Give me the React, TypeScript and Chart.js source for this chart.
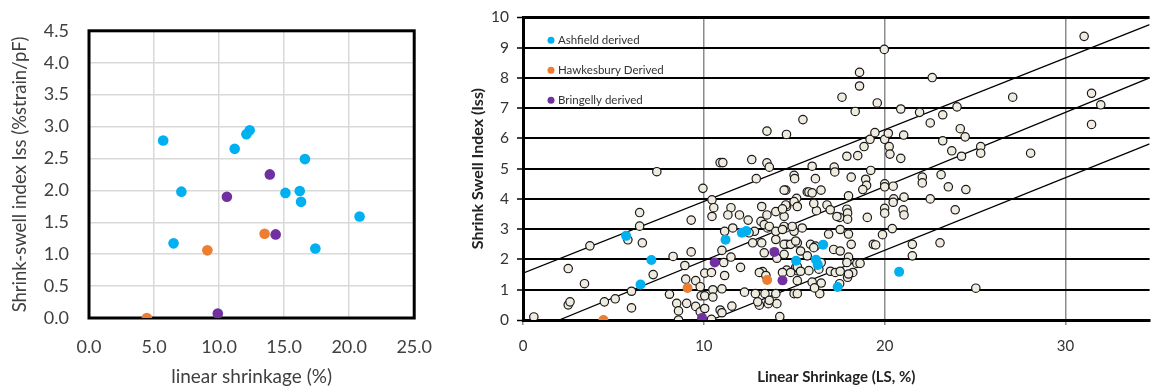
import React, { useEffect, useRef } from 'react';
import { Chart, registerables } from 'chart.js';
Chart.register(...registerables);

const FONT = 'Lato, "Open Sans", "Liberation Sans", sans-serif';
const BLUE = '#00B0F0';
const ORANGE = '#ED7D31';
const PURPLE = '#7030A0';

// Highlighted samples (same in both panels)
const ashfieldLS = [5.7, 6.5, 7.1, 11.2, 12.1, 12.35, 15.1, 16.2, 16.3, 16.6, 17.4, 20.8];
const ashfieldIss = [2.78, 1.17, 1.98, 2.65, 2.88, 2.94, 1.96, 1.99, 1.82, 2.49, 1.09, 1.59];
const hawkesburyLS = [4.45, 9.1, 13.5];
const hawkesburyIss = [0.0, 1.06, 1.32];
const bringellyLS = [9.9, 10.6, 13.9, 14.35];
const bringellyIss = [0.07, 1.9, 2.25, 1.31];

// Background dataset (right panel)
const allLS = [
  0.6, 2.5, 2.5, 2.6, 3.4, 3.7, 4.5, 5.1, 5.8, 6.0, 6.0, 6.45, 6.45, 6.6, 7.2, 7.4, 8.1, 8.3, 8.5, 8.6,
  8.6, 8.95, 9.0, 9.05, 9.3, 9.3, 9.55, 9.55, 9.8, 9.85, 9.8, 9.95, 10.05, 10.05, 10.05, 10.45, 10.45, 10.55, 10.42, 10.5,
  10.5, 10.42, 10.9, 11.05, 10.9, 11.0, 11.1, 11.15, 11.0, 11.0, 11.5, 11.5, 11.55, 11.15, 11.6, 11.33, 11.97, 12.03, 12.25, 12.45,
  12.7, 12.8, 12.85, 12.65, 12.9, 12.5, 13.07, 13.2, 13.16, 13.2, 13.25, 13.38, 13.56, 13.49, 13.52, 13.34, 13.49, 13.49, 13.62, 13.98,
  13.98, 14.04, 14.04, 14.2, 13.07, 13.43, 12.98, 13.62, 13.98, 13.34, 13.62, 13.98, 14.53, 14.58, 14.53, 14.58, 14.58, 14.99, 14.99, 15.13,
  15.17, 15.17, 15.44, 15.35, 14.57, 14.99, 15.02, 15.48, 15.72, 14.44, 14.44, 14.44, 14.44, 14.35, 14.35, 14.89, 14.8, 15.08, 15.9, 16.17,
  15.72, 15.08, 14.8, 15.81, 14.53, 14.99, 14.44, 14.35, 15.99, 16.17, 15.81, 15.99, 16.48, 15.17, 16.81, 16.99, 16.23, 16.08, 16.9, 16.08,
  16.49, 16.36, 15.99, 16.49, 16.41, 16.12, 15.17, 15.17, 15.35, 15.17, 17.0, 17.27, 17.54, 17.51, 17.64, 18.37, 18.61, 18.61, 17.91, 18.51,
  18.86, 19.19, 19.46, 17.21, 17.24, 18.15, 18.95, 19.0, 18.79, 19.23, 18.0, 17.51, 17.91, 17.95, 17.95, 19.04, 17.54, 18.0, 18.15, 17.18,
  17.54, 18.0, 17.91, 18.46, 18.24, 17.95, 18.64, 18.0, 17.36, 19.37, 19.59, 19.98, 20.89, 21.93, 20.0, 20.2, 20.25, 20.29, 21.05, 20.89,
  20.0, 20.0, 20.47, 22.08, 22.08, 20.5, 21.07, 22.52, 20.0, 20.0, 20.47, 21.02, 21.07, 19.88, 20.42, 19.5, 21.53, 21.53, 22.63, 22.52,
  23.21, 24.0, 24.18, 24.45, 23.21, 23.71, 24.25, 25.31, 25.31, 23.12, 23.52, 24.49, 23.9, 23.06, 25.04, 27.08, 28.07, 31.03, 31.44, 31.95,
  31.44,
];
const allIss = [
  0.1, 1.7, 0.5, 0.6, 1.2, 2.45, 0.6, 0.7, 2.65, 0.95, 0.4, 3.55, 3.1, 2.55, 1.5, 4.9, 0.85, 2.1, 0.55, 0.3,
  0.0, 1.8, 1.35, 0.55, 3.3, 2.25, 1.3, 0.45, 1.1, 0.8, 0.27, 4.35, 1.55, 0.8, 0.38, 3.97, 3.42, 3.71, 1.57, 1.0,
  0.76, 0.02, 5.2, 5.2, 0.33, 2.3, 1.9, 1.47, 1.03, 0.24, 3.71, 2.08, 0.46, 2.93, 3.04, 3.47, 3.47, 1.74, 0.92, 3.3,
  2.55, 2.93, 0.87, 5.3, 4.67, 2.88, 0.49, 3.75, 3.26, 2.55, 1.6, 0.87, 0.54, 3.47, 3.04, 2.22, 6.24, 5.19, 5.05, 3.58,
  2.66, 2.04, 0.54, 0.11, 1.57, 1.47, 0.6, 0.65, 0.87, 3.15, 3.09, 2.93, 4.29, 3.75, 3.04, 2.5, 1.65, 0.87, 2.93, 4.02,
  2.55, 1.63, 3.04, 2.28, 6.13, 4.78, 4.67, 6.62, 4.23, 3.42, 3.09, 2.17, 2.5, 1.57, 2.99, 3.09, 2.5, 2.61, 2.5, 2.44,
  2.12, 1.74, 1.57, 1.63, 3.8, 3.91, 4.29, 3.67, 5.08, 4.67, 4.23, 4.2, 4.29, 3.75, 3.8, 3.64, 3.61, 3.85, 2.84, 2.39,
  1.9, 1.68, 1.25, 1.22, 0.87, 1.06, 0.87, 1.76, 1.61, 1.3, 1.61, 1.57, 1.61, 1.2, 7.36, 6.89, 8.18, 7.73, 5.41, 5.43,
  5.73, 5.97, 6.19, 5.05, 4.89, 4.72, 4.65, 4.45, 4.31, 4.94, 4.1, 3.39, 3.66, 3.53, 3.33, 3.39, 2.99, 2.84, 2.5, 2.33,
  2.28, 2.08, 1.9, 1.87, 1.57, 1.41, 1.87, 1.52, 3.42, 2.5, 7.17, 8.94, 6.97, 6.86, 5.97, 6.17, 5.73, 5.48, 6.11, 5.34,
  4.5, 4.4, 4.42, 4.72, 4.53, 4.0, 4.06, 4.0, 3.69, 3.53, 3.89, 3.64, 3.47, 2.82, 3.02, 2.48, 2.5, 2.12, 8.01, 6.51,
  6.78, 7.04, 6.32, 6.05, 5.92, 5.59, 5.41, 5.73, 5.51, 4.8, 4.4, 4.31, 3.64, 2.55, 1.05, 7.36, 5.51, 9.37, 7.49, 7.11,
  6.46,
];

// Envelope lines (right panel)
const topLineLS = [0, 34.65];
const topLineIss = [1.55, 9.76];
const midLineLS = [2.0, 34.65];
const midLineIss = [0, 8.0];
const lowLineLS = [10.4, 34.65];
const lowLineIss = [0, 5.82];

const leftXTicks = [0, 5, 10, 15, 20, 25];
const rightXTicks = [0, 10, 20, 30];
const legendLabels = ['Ashfield derived', 'Hawkesbury Derived', 'Bringelly derived'];
const legendColors = [BLUE, ORANGE, PURPLE];

const pts = (xs: number[], ys: number[]) => xs.map((x, i) => ({ x, y: ys[i] }));

const framePlugin = {
  id: 'frame',
  beforeDatasetsDraw(chart: any) {
    const { ctx, chartArea: a } = chart;
    ctx.save();
    ctx.strokeStyle = '#000';
    ctx.lineWidth = 3;
    ctx.strokeRect(a.left, a.top, a.right - a.left, a.bottom - a.top);
    ctx.restore();
  },
};

const legendPlugin = {
  id: 'inlegend',
  afterDraw(chart: any) {
    const { ctx, chartArea: a } = chart;
    ctx.save();
    legendLabels.forEach((t, i) => {
      const cx = a.left + 28;
      const cy = a.top + 23 + i * 30;
      ctx.beginPath();
      ctx.arc(cx, cy, 3.5, 0, Math.PI * 2);
      ctx.fillStyle = legendColors[i];
      ctx.fill();
      ctx.fillStyle = '#333';
      ctx.font = `11.5px ${FONT}`;
      ctx.textBaseline = 'middle';
      ctx.textAlign = 'left';
      ctx.fillText(t, cx + 7, cy);
    });
    ctx.restore();
  },
};

export default function App() {
  const leftRef = useRef<HTMLCanvasElement>(null);
  const rightRef = useRef<HTMLCanvasElement>(null);

  useEffect(() => {
    const colored = (r: number) => [
      { label: 'Ashfield derived', data: pts(ashfieldLS, ashfieldIss), backgroundColor: BLUE, borderWidth: 0, pointRadius: r },
      { label: 'Hawkesbury Derived', data: pts(hawkesburyLS, hawkesburyIss), backgroundColor: ORANGE, borderWidth: 0, pointRadius: r },
      { label: 'Bringelly derived', data: pts(bringellyLS, bringellyIss), backgroundColor: PURPLE, borderWidth: 0, pointRadius: r },
    ];

    const left = new Chart(leftRef.current!, {
      type: 'scatter',
      data: { datasets: colored(5.3) as any },
      options: {
        responsive: false,
        animation: false,
        layout: { padding: { top: 19, right: 22, left: 0, bottom: 0 } },
        plugins: { legend: { display: false }, tooltip: { enabled: false } },
        scales: {
          x: {
            type: 'linear', min: 0, max: 25,
            afterBuildTicks: (s: any) => { s.ticks = leftXTicks.map((v) => ({ value: v })); },
            ticks: { callback: (v: any) => Number(v).toFixed(1), font: { family: FONT, size: 18 }, color: '#404040', padding: 18 },
            grid: { color: '#d9d9d9', lineWidth: 1.5, drawTicks: false },
            border: { display: false },
            title: { display: true, text: 'linear shrinkage (%)', font: { family: FONT, size: 19 }, color: '#404040', padding: { top: 0, bottom: 2 } },
            afterFit: (s: any) => { s.height = 72; },
          },
          y: {
            type: 'linear', min: 0, max: 4.5,
            ticks: { stepSize: 0.5, callback: (v: any) => Number(v).toFixed(1), font: { family: FONT, size: 18 }, color: '#404040', padding: 20 },
            grid: { color: '#d9d9d9', lineWidth: 1.5, drawTicks: false },
            border: { display: false },
            title: { display: true, text: 'Shrink-swell index Iss (%strain/pF)', font: { family: FONT, size: 18.5 }, color: '#404040', padding: { top: 9, bottom: 0 } },
            afterFit: (s: any) => { s.width = 89; },
          },
        },
      } as any,
      plugins: [framePlugin],
    });

    const right = new Chart(rightRef.current!, {
      type: 'scatter',
      data: {
        datasets: [
          ...colored(5),
          { label: 'all', data: pts(allLS, allIss), backgroundColor: '#EFEBDF', borderColor: '#1a1a1a', borderWidth: 1.2, pointRadius: 4.2 },
          { label: 't1', data: pts(topLineLS, topLineIss), showLine: true, borderColor: '#000', borderWidth: 1.3, pointRadius: 0 },
          { label: 't2', data: pts(midLineLS, midLineIss), showLine: true, borderColor: '#000', borderWidth: 1.3, pointRadius: 0 },
          { label: 't3', data: pts(lowLineLS, lowLineIss), showLine: true, borderColor: '#000', borderWidth: 1.3, pointRadius: 0 },
        ] as any,
      },
      options: {
        responsive: false,
        animation: false,
        layout: { padding: { top: 13, right: 0, left: 0, bottom: 0 } },
        plugins: { legend: { display: false }, tooltip: { enabled: false } },
        scales: {
          x: {
            type: 'linear', min: 0, max: 34.65,
            afterBuildTicks: (s: any) => { s.ticks = rightXTicks.map((v) => ({ value: v })); },
            ticks: { font: { family: FONT, size: 15 }, color: '#333', padding: 12 },
            grid: {
              color: (c: any) => (c.tick && c.tick.value === 0 ? 'rgba(0,0,0,0)' : '#8c8c8c'),
              lineWidth: 1.5, tickLength: 5, tickColor: '#8c8c8c',
            },
            border: { color: '#000', width: 3 },
            title: { display: true, text: 'Linear Shrinkage (LS, %)', font: { family: FONT, size: 15, weight: 'bold' }, color: '#222', padding: { top: 0, bottom: 4 } },
            afterFit: (s: any) => { s.height = 70; },
          },
          y: {
            type: 'linear', min: 0, max: 10,
            ticks: { stepSize: 1, font: { family: FONT, size: 15.5 }, color: '#333', padding: 8 },
            grid: {
              color: '#000',
              lineWidth: (c: any) => (c.tick && (c.tick.value === 0 || c.tick.value === 10) ? 3 : 2),
              tickLength: 6, tickWidth: 1.5, tickColor: '#000',
            },
            border: { color: '#000', width: 3 },
            title: { display: true, text: 'Shrink Swell Index (Iss)', font: { family: FONT, size: 16, weight: 'bold' }, color: '#222', padding: { top: 13, bottom: 0 } },
            afterFit: (s: any) => { s.width = 68; },
          },
        },
      } as any,
      plugins: [legendPlugin],
    });

    return () => {
      left.destroy();
      right.destroy();
    };
  }, []);

  return (
    <div style={{ position: 'fixed', left: 0, top: 0, width: 1155, height: 390, background: '#fff', overflow: 'hidden' }}>
      <canvas ref={leftRef} width={450} height={390} style={{ position: 'absolute', left: 0, top: 0 }} />
      <canvas ref={rightRef} width={700} height={390} style={{ position: 'absolute', left: 455, top: 0 }} />
    </div>
  );
}
